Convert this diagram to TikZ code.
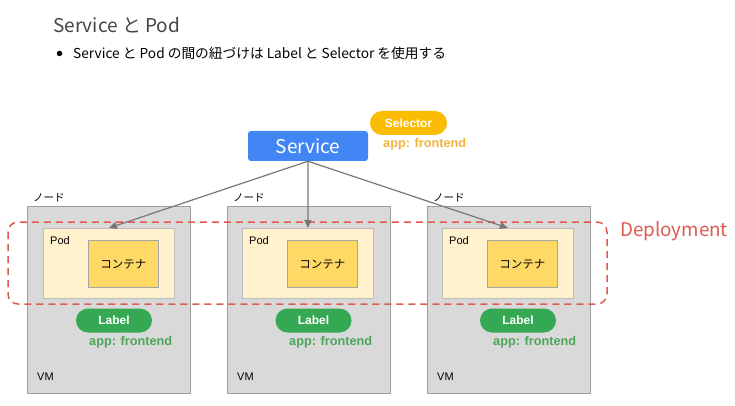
\documentclass[tikz,border=0pt]{standalone}
\usepackage{fontspec}
\setmainfont{Liberation Sans}
\newfontfamily\cjk{Noto Sans CJK JP}
\usetikzlibrary{arrows.meta,positioning}
\definecolor{vmgray}{HTML}{D9D9D9}
\definecolor{vmline}{HTML}{9E9E9E}
\definecolor{podfill}{HTML}{FFF2CC}
\definecolor{podline}{HTML}{BDBDBD}
\definecolor{ctfill}{HTML}{FFD966}
\definecolor{ctline}{HTML}{A6A6A6}
\definecolor{depred}{HTML}{DD5A52}
\definecolor{svcblue}{HTML}{4285F4}
\definecolor{selyel}{HTML}{FBBC04}
\definecolor{seltxt}{HTML}{F4B43A}
\definecolor{lblgreen}{HTML}{34A853}
\definecolor{lbltxt}{HTML}{4EA65A}
\definecolor{arrgray}{HTML}{777777}
\definecolor{titlegray}{HTML}{444444}
\tikzset{
  vmbox/.style={draw=vmline, fill=vmgray, line width=0.8pt, minimum width=163, minimum height=187, inner sep=0, anchor=north west},
  podbox/.style={draw=podline, fill=podfill, line width=0.8pt, minimum width=131, minimum height=70, inner sep=0, anchor=north west},
  ctbox/.style={draw=ctline, fill=ctfill, line width=0.8pt, minimum width=70, minimum height=47, inner sep=0, anchor=north west, font=\cjk\fontsize{11.5}{12}\selectfont},
  pill/.style={rounded corners=12, minimum width=76, minimum height=24, inner sep=0, text=white, font=\bfseries\fontsize{12}{13}\selectfont},
  lblpill/.style={pill, fill=lblgreen},
  apptxt/.style={font=\bfseries\fontsize{12.7}{13}\selectfont, inner sep=0, anchor=west},
  small/.style={font=\fontsize{11}{12}\selectfont, inner sep=0, anchor=west},
  noded/.style={font=\cjk\fontsize{10.5}{12}\selectfont, inner sep=0, anchor=west},
  conn/.style={draw=arrgray, line width=1.2pt, -{Triangle[length=8pt,width=7pt]}},
}
\begin{document}
\begin{tikzpicture}[x=1pt,y=-1pt]
\useasboundingbox (0,0) rectangle (735,406);
\fill[white] (0,0) rectangle (735,406);
% title
\node[anchor=west, inner sep=0, text=titlegray, font=\cjk\fontsize{19}{22}\selectfont] (title) at (53,25) {Service と Pod};
\node[circle, fill=black, minimum size=5.5, inner sep=0] (bul) at (59.5,53.5) {};
\node[anchor=west, inner sep=0, font=\cjk\fontsize{13.7}{15}\selectfont] (sub) at (73,53) {Service と Pod の間の紐づけは Label と Selector を使用する};
% VM boxes
\foreach \i/\x in {1/27,2/227,3/427}{
  \node[vmbox] (vm\i) at (\x,206) {};
  \node[noded] (nd\i) at (\x+6,198) {ノード};
  \node[small] (vmt\i) at (\x+10,377) {VM};
}
\node[podbox] (p1) at (43,228) {};
\node[podbox] (p2) at (242,228) {};
\node[podbox] (p3) at (442,228) {};
\node[ctbox] (c1) at (88,240) {コンテナ};
\node[ctbox] (c2) at (287,240) {コンテナ};
\node[ctbox] (c3) at (487,240) {コンテナ};
\node[small] (pt1) at (50,241) {Pod};
\node[small] (pt2) at (249,241) {Pod};
\node[small] (pt3) at (449,241) {Pod};
% labels
\node[lblpill] (l1) at (114,320.5) {Label};
\node[lblpill] (l2) at (313.5,320.5) {Label};
\node[lblpill] (l3) at (518,320.5) {Label};
\node[apptxt, text=lbltxt] (a1) at (89,342) {app: frontend};
\node[apptxt, text=lbltxt] (a2) at (289,342) {app: frontend};
\node[apptxt, text=lbltxt] (a3) at (493,342) {app: frontend};
% deployment
\draw[depred, line width=1.5pt, dash pattern=on 7pt off 5pt, rounded corners=10] (8,222) rectangle (607,304);
\node[anchor=west, inner sep=0, text=depred, font=\cjk\fontsize{18.8}{22}\selectfont] (dep) at (620,231) {Deployment};
% service
\node[fill=svcblue, rounded corners=3, minimum width=120, minimum height=30, inner sep=0, text=white, font=\cjk\fontsize{19}{21}\selectfont] (svc) at (308,146) {Service};
\node[pill, fill=selyel, minimum width=77] (sel) at (408.5,123) {Selector};
\node[apptxt, text=seltxt] (sa) at (383,144) {app: frontend};
% connectors
\draw[conn] (svc.south) -- (p1.north);
\draw[conn] (svc.south) -- (p2.north);
\draw[conn] (svc.south) -- (p3.north);
\end{tikzpicture}
\end{document}
